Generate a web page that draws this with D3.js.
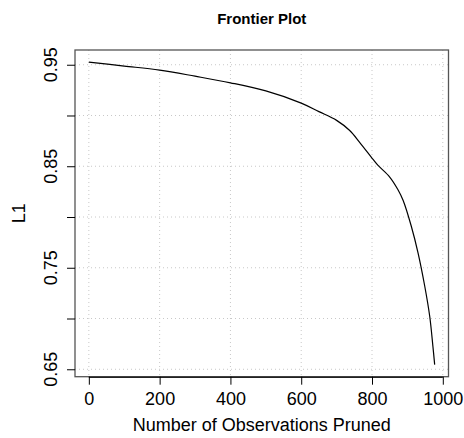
<!DOCTYPE html>
<html>
<head>
<meta charset="utf-8">
<script src="https://cdn.jsdelivr.net/npm/d3@7"></script>
<style>
html,body{margin:0;padding:0;background:#fff;}
svg{display:block;font-family:"Liberation Sans",Arial,Helvetica,sans-serif;}
</style>
</head>
<body>
<svg id="chart" width="464" height="438"></svg>
<script>
// Data
const pruned = [0,100,200,300,400,500,600,650,700,737,765,803,817,850,873,888,911,930,949,963,972,977];
const l1 = [0.9526,0.9487,0.9447,0.9387,0.9322,0.9242,0.9122,0.9038,0.8952,0.8852,0.8736,0.8567,0.8508,0.8394,0.8271,0.8163,0.7909,0.7647,0.7318,0.7022,0.6727,0.6546];
const xTicks = [0,200,400,600,800,1000];
const yTicks = [0.65,0.70,0.75,0.80,0.85,0.90,0.95];
const yLabelTicks = [0.65,0.75,0.85,0.95];
const title = "Frontier Plot";
const xTitle = "Number of Observations Pruned";
const yTitle = "L1";

const svg = d3.select("#chart");
const L = 75, R = 448.5, T = 50, B = 376.7;

function pad(ext){ const r = ext[1]-ext[0]; return [ext[0]-0.04*r, ext[1]+0.04*r]; }
const x = d3.scaleLinear().domain(pad(d3.extent(pruned))).range([L, R]);
const y = d3.scaleLinear().domain(pad(d3.extent(l1))).range([B, T]);

// grid
const g = svg.append("g");
g.selectAll(".vg").data(xTicks).join("line")
  .attr("x1", d=>x(d)).attr("x2", d=>x(d)).attr("y1", T).attr("y2", B)
  .attr("stroke", "#c8c8c8").attr("stroke-dasharray", "1,3");
g.selectAll(".hg").data(yTicks).join("line")
  .attr("x1", L).attr("x2", R).attr("y1", d=>y(d)).attr("y2", d=>y(d))
  .attr("stroke", "#c8c8c8").attr("stroke-dasharray", "1,3");

// line
const pts = pruned.map((v,i)=>[v,l1[i]]);
svg.append("path").datum(pts)
  .attr("fill","none").attr("stroke","#000").attr("stroke-width",1.2)
  .attr("d", d3.line().x(d=>x(d[0])).y(d=>y(d[1])).curve(d3.curveCatmullRom.alpha(0.5)));

// box
svg.append("rect").attr("x", L).attr("y", T).attr("width", R-L).attr("height", B-T)
  .attr("fill","none").attr("stroke","#555").attr("stroke-width",1.3);

// x axis
const xa = svg.append("g").attr("transform", `translate(0,${B})`)
  .call(d3.axisBottom(x).tickValues(xTicks).tickSize(8).tickPadding(8).tickFormat(d3.format("d")));
xa.select(".domain").attr("d", `M${x(0)},0.5H${x(1000)}`).attr("stroke","#222").attr("stroke-width",1.5);
xa.selectAll(".tick line").attr("stroke","#000");
xa.selectAll(".tick text").attr("font-size", 18).attr("fill","#000")
  .attr("font-family","Liberation Sans, Arial, sans-serif");

// y axis
const ya = svg.append("g").attr("transform", `translate(${L},0)`)
  .call(d3.axisLeft(y).tickValues(yTicks).tickSize(8).tickFormat(""));
ya.select(".domain").remove();
ya.selectAll(".tick line").attr("stroke","#000");
svg.selectAll(".ylab").data(yLabelTicks).join("text")
  .attr("transform", d=>`translate(57,${y(d)}) rotate(-90)`)
  .attr("text-anchor","middle").attr("font-size",18).attr("fill","#000")
  .text(d=>d3.format(".2f")(d));

// titles
svg.append("text").attr("x",(L+R)/2).attr("y",24).attr("text-anchor","middle")
  .attr("font-size",15).attr("font-weight","bold").text(title);
svg.append("text").attr("x",(L+R)/2).attr("y",431).attr("text-anchor","middle")
  .attr("font-size",18).text(xTitle);
svg.append("text").attr("transform",`translate(25,${(T+B)/2}) rotate(-90)`)
  .attr("text-anchor","middle").attr("font-size",18).text(yTitle);
</script>
</body>
</html>
